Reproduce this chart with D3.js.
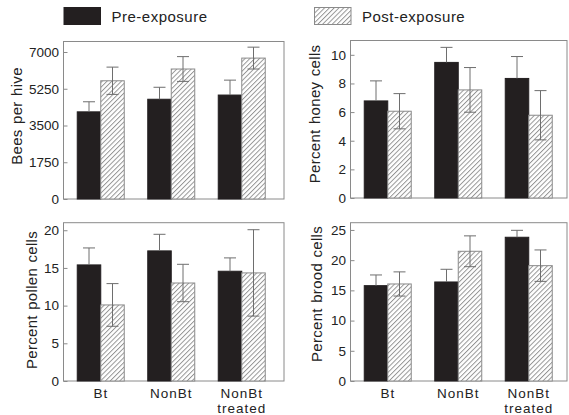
<!DOCTYPE html>
<html>
<head>
<meta charset="UTF-8">
<title>Colony measures, pre and post exposure</title>
<script src="https://cdn.jsdelivr.net/npm/d3@7"></script>
<style>
    body { margin: 0; background: #fff; }
    svg { display: block; font-family: "Liberation Sans", Arial, sans-serif; }
    .tick text { fill: #222; }
</style>
</head>
<body>
<div id="chart"></div>
<script>
// ---- data ----
const groups = ["Bt", "NonBt", "NonBt treated"];
const series = ["Pre-exposure", "Post-exposure"];

const beesPre = [4150, 4750, 4950];
const beesPreErr = [480, 570, 710];
const beesPost = [5630, 6190, 6710];
const beesPostErr = [650, 590, 520];

const honeyPre = [6.78, 9.47, 8.35];
const honeyPreErr = [1.40, 1.05, 1.53];
const honeyPost = [6.06, 7.55, 5.78];
const honeyPostErr = [1.23, 1.56, 1.72];

const pollenPre = [15.4, 17.26, 14.56];
const pollenPreErr = [2.25, 2.2, 1.77];
const pollenPost = [10.09, 13.0, 14.34];
const pollenPostErr = [2.83, 2.48, 5.73];

const broodPre = [15.78, 16.39, 23.79];
const broodPreErr = [1.77, 2.1, 1.15];
const broodPost = [16.06, 21.47, 19.09];
const broodPostErr = [2.0, 2.55, 2.6];

const beesTicks = [0, 1750, 3500, 5250, 7000];
const honeyTicks = [0, 2, 4, 6, 8, 10];
const pollenTicks = [0, 5, 10, 15, 20];
const broodTicks = [0, 5, 10, 15, 20, 25];

// ---- layout ----
const W = 569, H = 415;
const panels = [
    {title: "Bees per hive", pre: beesPre, preErr: beesPreErr, post: beesPost, postErr: beesPostErr,
     ticks: beesTicks, yMax: 7500, x0: 63.5, x1: 284, y0: 41.5, y1: 199, tx: 17, ty: 116, xLabels: false},
    {title: "Percent honey cells", pre: honeyPre, preErr: honeyPreErr, post: honeyPost, postErr: honeyPostErr,
     ticks: honeyTicks, yMax: 11, x0: 350.5, x1: 567, y0: 40.5, y1: 198, tx: 315, ty: 114, xLabels: false},
    {title: "Percent pollen cells", pre: pollenPre, preErr: pollenPreErr, post: pollenPost, postErr: pollenPostErr,
     ticks: pollenTicks, yMax: 21, x0: 63.5, x1: 284, y0: 222.7, y1: 381, tx: 32, ty: 300, xLabels: true},
    {title: "Percent brood cells", pre: broodPre, preErr: broodPreErr, post: broodPost, postErr: broodPostErr,
     ticks: broodTicks, yMax: 26.2, x0: 350.5, x1: 567, y0: 222.7, y1: 381, tx: 316.5, ty: 294, xLabels: true}
];

const barDark = "#231f20";
const gray = "#8a8a8a";
const errGray = "#6e6e6e";
const capW = 12;

const svg = d3.select("#chart").append("svg")
    .attr("width", W)
    .attr("height", H);

// hatch pattern for post-exposure bars
svg.append("defs").append("pattern")
    .attr("id", "hatch")
    .attr("patternUnits", "userSpaceOnUse")
    .attr("width", 3.4)
    .attr("height", 3.4)
    .attr("patternTransform", "rotate(45)")
  .call(p => {
      p.append("rect").attr("width", 3.4).attr("height", 3.4).attr("fill", "#fff");
      p.append("line")
          .attr("x1", 0.5).attr("y1", 0).attr("x2", 0.5).attr("y2", 3.4)
          .attr("stroke", "#8c8c8c").attr("stroke-width", 0.9);
  });

// legend
const legend = [
    {label: series[0], fill: barDark, x: 64, tx: 111.5},
    {label: series[1], fill: "url(#hatch)", x: 314.5, tx: 362}
];
legend.forEach(l => {
    svg.append("rect")
        .attr("x", l.x).attr("y", 7.5)
        .attr("width", 36.5).attr("height", 17)
        .attr("fill", l.fill)
        .attr("stroke", l.fill === barDark ? barDark : gray)
        .attr("stroke-width", 1);
    svg.append("text")
        .attr("x", l.tx).attr("y", 21.5)
        .attr("font-size", 15)
        .attr("letter-spacing", 0.5)
        .attr("fill", "#222")
        .text(l.label);
});

panels.forEach(p => {
    const g = svg.append("g");

    const x = d3.scaleBand()
        .domain(groups)
        .range([p.x0 + 2, p.x0 + 2 + 211.5])
        .paddingInner(1 / 3)
        .paddingOuter(1 / 6);
    const xs = d3.scaleBand()
        .domain(series)
        .range([0, x.bandwidth()]);
    const y = d3.scaleLinear()
        .domain([0, p.yMax])
        .range([p.y1, p.y0]);

    // frame
    g.append("rect")
        .attr("x", p.x0).attr("y", p.y0)
        .attr("width", p.x1 - p.x0).attr("height", p.y1 - p.y0)
        .attr("fill", "none")
        .attr("stroke", gray)
        .attr("stroke-width", 1);

    // y axis (inward ticks)
    g.append("g")
        .attr("transform", `translate(${p.x0},0)`)
        .call(d3.axisLeft(y).tickValues(p.ticks).tickFormat(d3.format("d"))
            .tickSizeInner(-4).tickSizeOuter(0).tickPadding(4.5))
        .call(a => a.select(".domain").remove())
        .call(a => a.selectAll(".tick line").attr("stroke", gray))
        .call(a => a.selectAll(".tick text")
            .attr("font-size", 13.5)
            .attr("font-family", "Liberation Sans, Arial, sans-serif"));

    // y title
    g.append("text")
        .attr("transform", `translate(${p.tx},${p.ty}) rotate(-90)`)
        .attr("text-anchor", "middle")
        .attr("dy", "0.35em")
        .attr("font-size", 15)
        .attr("letter-spacing", 0.3)
        .attr("word-spacing", 1)
        .attr("fill", "#222")
        .text(p.title);

    const rows = groups.map((grp, i) => [
        {grp, s: series[0], v: p.pre[i], e: p.preErr[i]},
        {grp, s: series[1], v: p.post[i], e: p.postErr[i]}
    ]).flat();

    // bars
    g.selectAll(".bar")
        .data(rows)
        .join("rect")
        .attr("class", "bar")
        .attr("x", d => x(d.grp) + xs(d.s))
        .attr("y", d => y(d.v))
        .attr("width", xs.bandwidth())
        .attr("height", d => y(0) - y(d.v))
        .attr("fill", d => d.s === series[0] ? barDark : "url(#hatch)")
        .attr("stroke", d => d.s === series[0] ? barDark : gray)
        .attr("stroke-width", 1);

    // error bars: pre shows upper half only, post shows both
    const cx = d => x(d.grp) + xs(d.s) + xs.bandwidth() / 2;
    const lo = d => d.s === series[0] ? d.v : d.v - d.e;
    const eb = g.selectAll(".err")
        .data(rows)
        .join("g")
        .attr("class", "err")
        .attr("stroke", errGray)
        .attr("stroke-width", 1);
    eb.append("line")
        .attr("x1", cx).attr("x2", cx)
        .attr("y1", d => y(d.v + d.e)).attr("y2", d => y(lo(d)));
    eb.append("line")
        .attr("x1", d => cx(d) - capW / 2).attr("x2", d => cx(d) + capW / 2)
        .attr("y1", d => y(d.v + d.e)).attr("y2", d => y(d.v + d.e));
    eb.filter(d => d.s === series[1]).append("line")
        .attr("x1", d => cx(d) - capW / 2).attr("x2", d => cx(d) + capW / 2)
        .attr("y1", d => y(d.v - d.e)).attr("y2", d => y(d.v - d.e));

    // x labels, bottom row only
    if (p.xLabels) {
        g.append("g")
            .attr("transform", `translate(0,${p.y1})`)
            .call(d3.axisBottom(x).tickSize(0).tickPadding(0))
            .call(a => a.select(".domain").remove())
            .call(a => a.selectAll(".tick text")
                .attr("font-size", 13.5)
                .attr("letter-spacing", 1)
                .attr("font-family", "Liberation Sans, Arial, sans-serif")
                .attr("dy", null)
                .attr("y", 16.5)
                .each(function(d) {
                    const t = d3.select(this);
                    const words = d.split(" ");
                    t.text(null);
                    words.forEach((w, i) => {
                        t.append("tspan")
                            .attr("x", 0)
                            .attr("dy", i === 0 ? 0 : 15.3)
                            .text(w);
                    });
                }));
    }
});
</script>
</body>
</html>
